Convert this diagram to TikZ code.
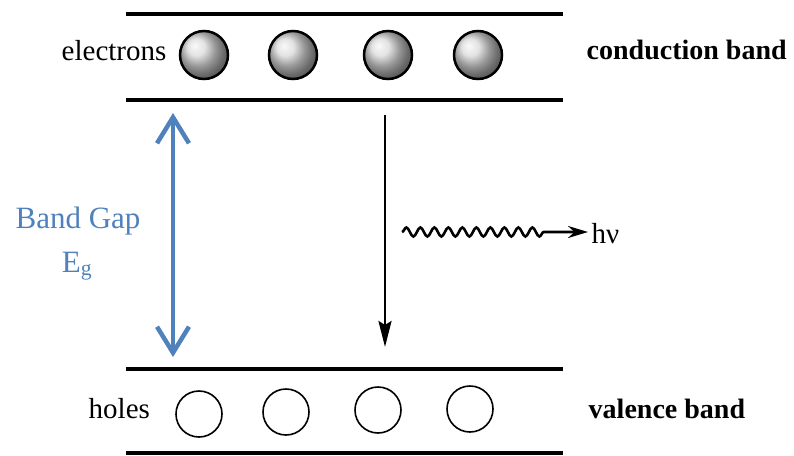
\documentclass[tikz,border=0pt]{standalone}
\usepackage{fontspec}
\setmainfont{Liberation Serif}
\usepackage{tikz}
\usetikzlibrary{arrows.meta, decorations.pathmorphing}
\definecolor{gapblue}{RGB}{79,129,189}

\begin{document}
\begin{tikzpicture}[x=1pt, y=-1pt, thick, >=Stealth,
  font=\fontsize{29}{34}\selectfont,
  electron/.style={circle, draw, line width=2.5pt, ball color=gray!30, minimum size=48pt, inner sep=0pt},
  hole/.style={circle, draw, line width=1.6pt, minimum size=46pt, inner sep=0pt},
  bandlabel/.style={anchor=base west, font=\fontsize{28}{33}\selectfont\bfseries},
  level/.style={line width=3.5pt}]

\useasboundingbox (0,0) rectangle (794,455);

\def\L{126}
\def\R{563}

\draw[level] (\L,14) -- (\R,14);
\draw[level] (\L,100) -- (\R,100);
\draw[level] (\L,369) -- (\R,369);
\draw[level] (\L,453) -- (\R,453);


\node[anchor=base west] (elec) at (58,60) {electrons};
\node[bandlabel] (cband) at (583,59) {conduction band};

\node[electron] (e1) at (204,55) {};
\node[electron] (e2) at (293,55) {};
\node[electron] (e3) at (388,55) {};
\node[electron] (e4) at (478,55) {};


\node[anchor=base west] (hol) at (85,418) {holes};
\node[bandlabel] (vband) at (585,418) {valence band};

\node[hole] (h1) at (199,414) {};
\node[hole] (h2) at (286,412) {};
\node[hole] (h3) at (378,410) {};
\node[hole] (h4) at (470,409) {};


\node[gapblue, anchor=base, font=\fontsize{31}{36}\selectfont] (gap) at (78,228) {Band Gap};
\node[gapblue, anchor=base, font=\fontsize{31}{36}\selectfont] (eg) at (77,272) {E\textsubscript{g}};

\coordinate (gtop) at (173,113);
\coordinate (gbot) at (173,357);
\draw[gapblue, line width=4.5pt, line cap=round,
  {Straight Barb[length=26pt,width=32pt]}-{Straight Barb[length=26pt,width=32pt]}] (gtop) -- (gbot);


\coordinate (ctop) at (385,115);
\coordinate (vbot) at (385,347);
\draw[line width=2.8pt, -{Stealth[length=26pt,width=13pt,inset=4pt]}] (ctop) -- (vbot);


\coordinate (w0) at (402,232);
\node[anchor=base west] (hv) at (588,243) {hν};
\draw[line width=2.6pt, -{Stealth[length=20pt,width=12pt]}, decorate,
  decoration={snake, amplitude=4.5pt, segment length=14pt, post length=44pt}]
  (w0) -- (hv.west |- w0);

\end{tikzpicture}
\end{document}
